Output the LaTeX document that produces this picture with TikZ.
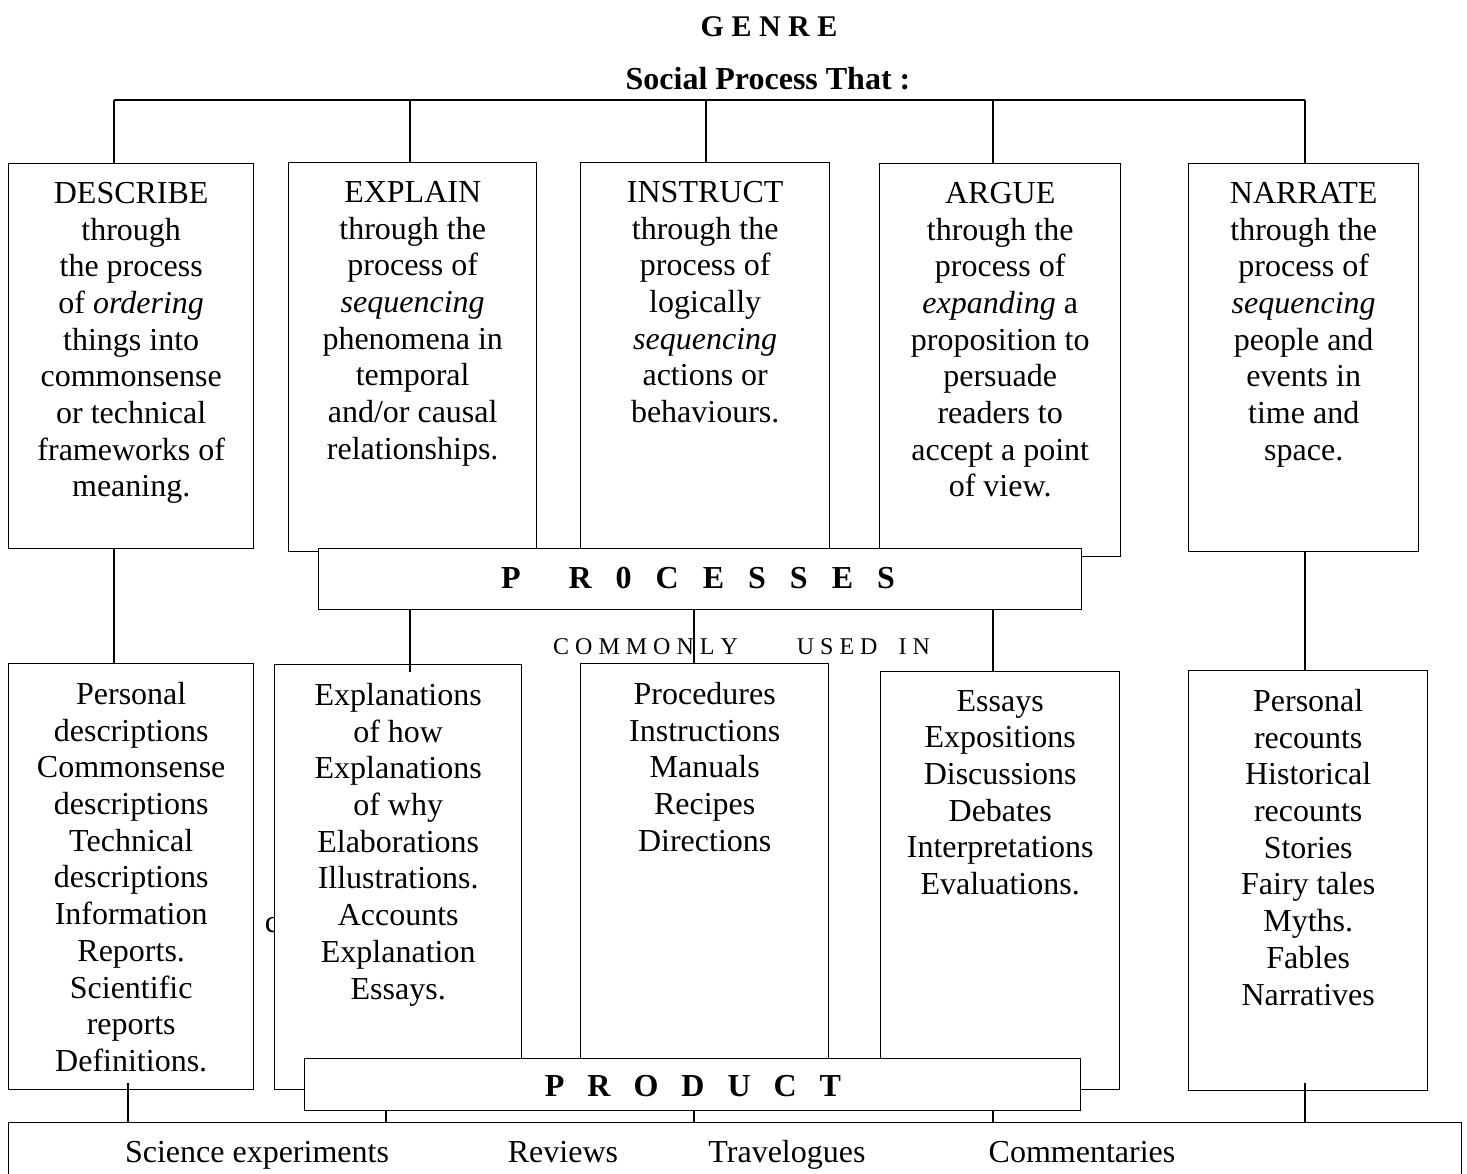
\documentclass[tikz,border=0pt]{standalone}
\usepackage{fontspec}
\setmainfont{Liberation Serif}
\begin{document}
\begin{tikzpicture}[x=1pt, y=-1pt,
        genbox/.style={draw, rectangle, fill=white, line width=1.4pt, anchor=north west, inner sep=0},
        boxtext/.style={anchor=north, align=center, inner sep=0, font=\fontsize{32}{36.7}\selectfont},
        bartext/.style={anchor=base, inner sep=0, font=\fontsize{32}{36.7}\selectfont\bfseries},
        link/.style={draw, line width=1.2pt}]

        \useasboundingbox (0,0) rectangle (1467,1174);

        \node[anchor=base, inner sep=0, font=\fontsize{30}{34}\selectfont\bfseries] (genre) at (769,37)
        {G E N R E};
        \node[anchor=base, inner sep=0, font=\fontsize{32}{36.7}\selectfont\bfseries] (social) at (768,90)
        {Social Process That :};

        \coordinate (t1) at (114,100);
        \coordinate (t2) at (410,100);
        \coordinate (t3) at (706,100);
        \coordinate (t4) at (993,100);
        \coordinate (t5) at (1305,100);

        % social processes
        \node[genbox, minimum width=245, minimum height=385] (describe) at (8,163) {};
        \node[boxtext] at ([yshift=-19pt]describe.north)
        {DESCRIBE\\ through\\ the process\\ of \textit{ordering}\\ things into\\ commonsense\\ or technical\\ frameworks of\\ meaning.};
        \node[genbox, minimum width=248, minimum height=389] (explain) at (288,162) {};
        \node[boxtext] at ([yshift=-19pt]explain.north)
        {EXPLAIN\\ through the\\ process of\\ \textit{sequencing}\\ phenomena in\\ temporal\\ and/or causal\\ relationships.};
        \node[genbox, minimum width=249, minimum height=390] (instruct) at (580,162) {};
        \node[boxtext] at ([yshift=-19pt]instruct.north)
        {INSTRUCT\\ through the\\ process of\\ logically\\ \textit{sequencing}\\ actions or\\ behaviours.};
        \node[genbox, minimum width=241, minimum height=393] (argue) at (879,163) {};
        \node[boxtext] at ([yshift=-19pt]argue.north)
        {ARGUE\\ through the\\ process of\\ \textit{expanding} a\\ proposition to\\ persuade\\ readers to\\ accept a point\\ of view.};
        \node[genbox, minimum width=230, minimum height=388] (narrate) at (1188,163) {};
        \node[boxtext] at ([yshift=-19pt]narrate.north)
        {NARRATE\\ through the\\ process of\\ \textit{sequencing}\\ people and\\ events in\\ time and\\ space.};

        \path[link] (t1) -- (t5);
        \path[link] (t1) -- (t1 |- describe.north);
        \path[link] (t2) -- (t2 |- explain.north);
        \path[link] (t3) -- (t3 |- instruct.north);
        \path[link] (t4) -- (t4 |- argue.north);
        \path[link] (t5) -- (t5 |- narrate.north);

        \node[genbox, minimum width=763, minimum height=61] (processes) at (318,548) {};
        \node[bartext] at (698,588) {\spaceskip=24pt P\ \ R 0 C E S S E S};

        \node[anchor=base west, inner sep=0, font=\fontsize{24}{28}\selectfont] (used) at (553,654)
        {C O M M O N L Y\hspace{59pt}U S E D\hspace{21pt}I N};
        \node[anchor=base, inner sep=0, font=\fontsize{32}{36.7}\selectfont] (stray) at (272,932) {c};

        % products
        \node[genbox, minimum width=245, minimum height=426] (descriptions) at (8,663) {};
        \node[boxtext] at ([yshift=-19pt]descriptions.north)
        {Personal\\ descriptions\\ Commonsense\\ descriptions\\ Technical\\ descriptions\\ Information\\ Reports.\\ Scientific\\ reports\\ Definitions.};
        \node[genbox, minimum width=247, minimum height=425] (explanations) at (274,664) {};
        \node[boxtext] at ([yshift=-19pt]explanations.north)
        {Explanations\\ of how\\ Explanations\\ of why\\ Elaborations\\ Illustrations.\\ Accounts\\ Explanation\\ Essays.};
        \node[genbox, minimum width=248, minimum height=430] (procedures) at (580,663) {};
        \node[boxtext] at ([yshift=-19pt]procedures.north)
        {Procedures\\ Instructions\\ Manuals\\ Recipes\\ Directions};
        \node[genbox, minimum width=239, minimum height=418] (essays) at (880,671) {};
        \node[boxtext] at ([yshift=-19pt]essays.north)
        {Essays\\ Expositions\\ Discussions\\ Debates\\ Interpretations\\ Evaluations.};
        \node[genbox, minimum width=239, minimum height=420] (recounts) at (1188,670) {};
        \node[boxtext] at ([yshift=-19pt]recounts.north)
        {Personal\\ recounts\\ Historical\\ recounts\\ Stories\\ Fairy tales\\ Myths.\\ Fables\\ Narratives};

        \coordinate (m3) at (694,609);
        \path[link] (t1 |- describe.south) -- (t1 |- descriptions.north);
        \path[link] (t2 |- processes.south) -- ([yshift=-8pt]t2 |- explanations.north);
        \path[link] (m3) -- (m3 |- procedures.north);
        \path[link] (t4 |- processes.south) -- (t4 |- essays.north);
        \path[link] (t5 |- narrate.south) -- (t5 |- recounts.north);

        \node[genbox, minimum width=776, minimum height=52] (product) at (304,1058) {};
        \node[bartext] at (693,1096) {\spaceskip=23pt P R O D U C T};

        \node[genbox, minimum width=1453, minimum height=80] (strip) at (8,1122) {};
        \node[anchor=base, inner sep=0, font=\fontsize{32}{36.7}\selectfont] (science) at (257,1162) {Science experiments};
        \node[anchor=base, inner sep=0, font=\fontsize{32}{36.7}\selectfont] (reviews) at (563,1162) {Reviews};
        \node[anchor=base, inner sep=0, font=\fontsize{32}{36.7}\selectfont] (travel) at (787,1162) {Travelogues};
        \node[anchor=base, inner sep=0, font=\fontsize{32}{36.7}\selectfont] (comment) at (1082,1162) {Commentaries};

        \coordinate (b1) at (128,1083);
        \coordinate (b2) at (386,1110);
        \coordinate (b3) at (694,1110);
        \coordinate (b4) at (993,1110);
        \coordinate (b5) at (1305,1083);
        \path[link] (b1) -- (b1 |- strip.north);
        \path[link] (b2 |- product.south) -- (b2 |- strip.north);
        \path[link] (b3 |- product.south) -- (b3 |- strip.north);
        \path[link] (b4 |- product.south) -- (b4 |- strip.north);
        \path[link] (b5) -- (b5 |- strip.north);
    \end{tikzpicture}
\end{document}
